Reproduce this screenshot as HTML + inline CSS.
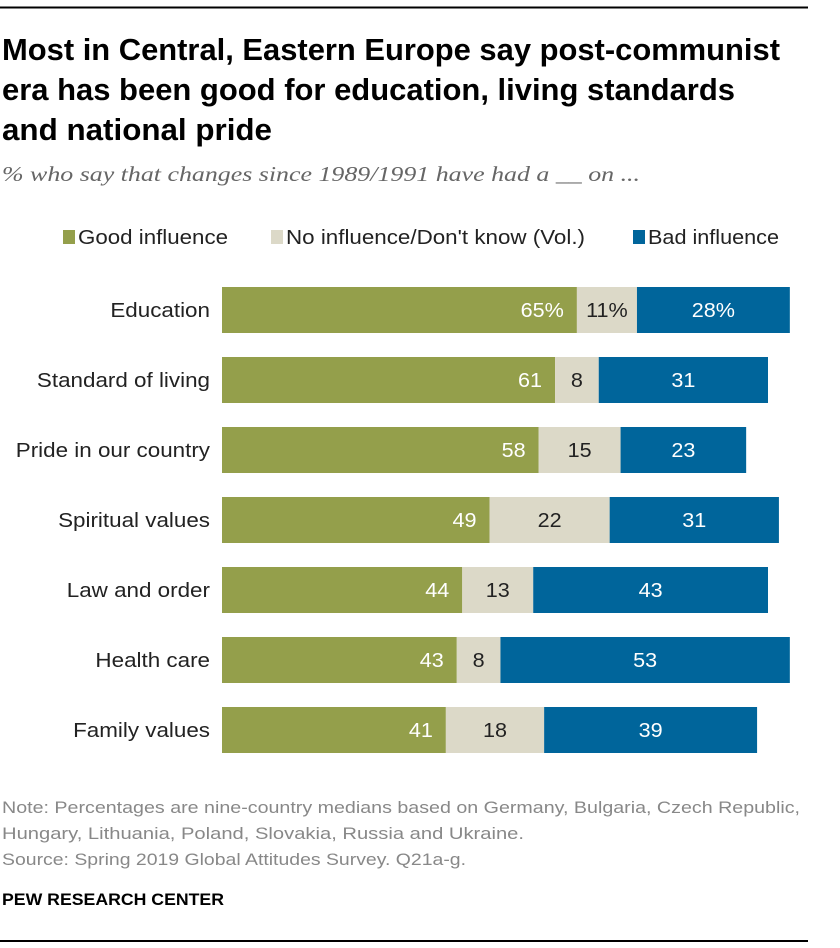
<!DOCTYPE html>
<html><head><meta charset="utf-8"><style>
body{margin:0;background:#fff;}
svg{display:block;font-family:"Liberation Sans",sans-serif;}
</style></head><body>
<svg width="840" height="948" viewBox="0 0 840 948">
<rect x="0" y="0" width="840" height="948" fill="#fff"/>
<line x1="0" y1="7.5" x2="808" y2="7.5" stroke="#000" stroke-width="2"/>
<g font-weight="bold" font-size="31" fill="#000">
<text x="2" y="60" textLength="778" lengthAdjust="spacingAndGlyphs">Most in Central, Eastern Europe say post-communist</text>
<text x="2" y="100" textLength="733" lengthAdjust="spacingAndGlyphs">era has been good for education, living standards</text>
<text x="2" y="140" textLength="270" lengthAdjust="spacingAndGlyphs">and national pride</text>
</g>
<text x="2" y="181" font-family="Liberation Serif,serif" font-style="italic" font-size="21" fill="#666" textLength="638" lengthAdjust="spacingAndGlyphs">% who say that changes since 1989/1991 have had a __ on ...</text>
<g font-size="20" fill="#222">
<rect x="63" y="230" width="12" height="14" fill="#949f4b"/>
<text x="78" y="244" textLength="150" lengthAdjust="spacingAndGlyphs">Good influence</text>
<rect x="271" y="230" width="12" height="14" fill="#dcd9c8"/>
<text x="286" y="244" textLength="299" lengthAdjust="spacingAndGlyphs">No influence/Don't know (Vol.)</text>
<rect x="633" y="230" width="12" height="14" fill="#00659b"/>
<text x="648" y="244" textLength="131" lengthAdjust="spacingAndGlyphs">Bad influence</text>
</g>
<g id="bars"></g>
<g font-size="17" fill="#888">
<text x="2" y="813" textLength="798" lengthAdjust="spacingAndGlyphs">Note: Percentages are nine-country medians based on Germany, Bulgaria, Czech Republic,</text>
<text x="2" y="839" textLength="522" lengthAdjust="spacingAndGlyphs">Hungary, Lithuania, Poland, Slovakia, Russia and Ukraine.</text>
<text x="2" y="865" textLength="464" lengthAdjust="spacingAndGlyphs">Source: Spring 2019 Global Attitudes Survey. Q21a-g.</text>
</g>
<text x="2" y="905" font-size="17" font-weight="bold" fill="#000" textLength="222" lengthAdjust="spacingAndGlyphs">PEW RESEARCH CENTER</text>
<line x1="0" y1="941" x2="808" y2="941" stroke="#000" stroke-width="2"/>
</svg>
<script>
const categories=["Education","Standard of living","Pride in our country","Spiritual values","Law and order","Health care","Family values"];
const goodVals=[65,61,58,49,44,43,41];
const noneVals=[11,8,15,22,13,8,18];
const badVals=[28,31,23,31,43,53,39];
const NS="http://www.w3.org/2000/svg";
const x0=222, scale=5.46, rowTop=287, rowStep=70, barH=46;
const xs=v=>x0+v*scale;
const g=document.getElementById('bars');
function mk(tag,attrs){const e=document.createElementNS(NS,tag);for(const k in attrs)e.setAttribute(k,attrs[k]);return e;}
function widen(t,f){const L=t.getComputedTextLength();t.setAttribute('textLength',L*f);t.setAttribute('lengthAdjust','spacingAndGlyphs');}
categories.forEach((c,i)=>{
  const y=rowTop+i*rowStep, cy=y+barH/2+7;
  const lbl=mk('text',{x:210,y:cy,'text-anchor':'end','font-size':20,fill:'#222'});
  lbl.textContent=c;
  
  
  g.appendChild(lbl);
  widen(lbl,1.12);
  const sfx=i===0?'%':'';
  const segs=[[0,goodVals[i],'#949f4b','#fff','good'],[goodVals[i],noneVals[i],'#dcd9c8','#222','none'],[goodVals[i]+noneVals[i],badVals[i],'#00659b','#fff','bad']];
  segs.forEach(([s,v,col,tc,nm],j)=>{
    const r=mk('rect',{x:xs(s),y:y,width:v*scale,height:barH,fill:col});
    
    
    g.appendChild(r);
    const t=mk('text',{'font-size':20,fill:tc});
    if(j===0){t.setAttribute('x',xs(s+v)-13);t.setAttribute('text-anchor','end');}
    else{t.setAttribute('x',xs(s+v/2));t.setAttribute('text-anchor','middle');}
    t.setAttribute('y',cy);
    t.textContent=v+sfx;
    
    
    g.appendChild(t);
    widen(t,1.08);
  });
});
</script>
</body></html>
